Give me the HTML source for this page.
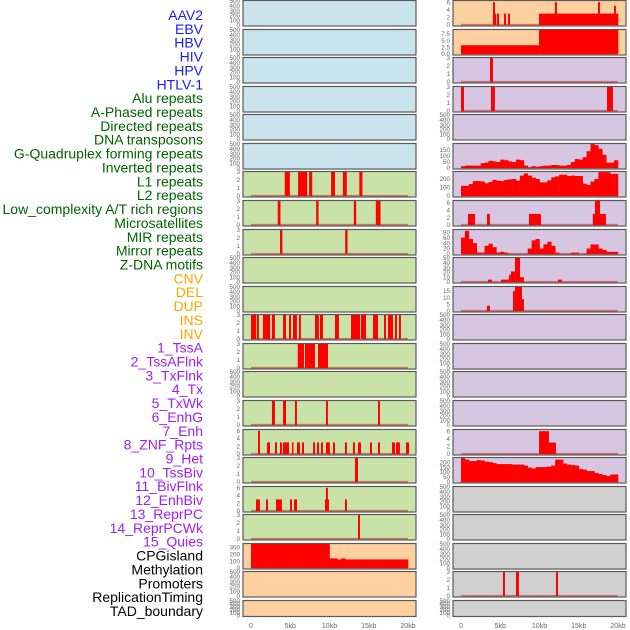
<!DOCTYPE html>
<html><head><meta charset="utf-8">
<style>
html,body{margin:0;padding:0;background:#fff;}
svg{display:block;font-family:"Liberation Sans",sans-serif;}
</style></head>
<body>
<svg id="chart" width="630" height="630" viewBox="0 0 630 630" xmlns="http://www.w3.org/2000/svg"></svg>
<script>
// ---- data ----
const trackLabels = ["AAV2","EBV","HBV","HIV","HPV","HTLV-1","Alu repeats","A-Phased repeats","Directed repeats","DNA transposons","G-Quadruplex forming repeats","Inverted repeats","L1 repeats","L2 repeats","Low_complexity A/T rich regions","Microsatellites","MIR repeats","Mirror repeats","Z-DNA motifs","CNV","DEL","DUP","INS","INV","1_TssA","2_TssAFlnk","3_TxFlnk","4_Tx","5_TxWk","6_EnhG","7_Enh","8_ZNF_Rpts","9_Het","10_TssBiv","11_BivFlnk","12_EnhBiv","13_ReprPC","14_ReprPCWk","15_Quies","CPGisland","Methylation","Promoters","ReplicationTiming","TAD_boundary"];
const labelGroups = [6,13,5,15,5];
const xTickValues = [0,5,10,15,20];
const xTickLabels = ["0","5kb","10kb","15kb","20kb"];
// spikes: [start kb, width kb, height]
const spikesL6 = [[4.3,0.65,3],[6.0,1.15,3],[7.4,0.4,3],[10.2,0.5,3],[11.7,0.5,3],[13.8,0.4,3]];
const spikesL7 = [[3.4,0.35,3],[8.3,0.3,3],[13.1,0.3,3],[15.9,0.6,3]];
const spikesL8 = [[3.7,0.3,3],[12.0,0.3,3]];
const spikesL11 = [[0.0,0.65,3],[0.76,0.25,3],[1.53,0.9,3],[2.67,0.38,3],[4.08,0.38,3],[4.84,0.25,3],[5.35,0.5,3],[6.11,0.25,3],[8.15,0.5,3],[8.79,0.38,3],[10.7,0.5,3],[12.74,1.15,3],[14.01,0.64,3],[15.54,0.64,3],[16.94,0.25,3],[17.45,0.64,3],[18.34,0.25,3],[18.85,0.25,3]];
const spikesL12 = [[5.95,0.8,3],[6.88,1.27,3],[8.54,1.27,3]];
const spikesL14 = [[2.67,0.38,3],[4.08,0.38,3],[5.6,0.25,3],[9.55,0.25,3],[16.18,0.25,3]];
const spikesL15 = [[0.89,0.25,6],[2.04,0.38,3],[3.06,0.25,3],[3.69,0.25,3],[4.08,0.76,3],[5.22,0.13,3],[5.86,0.38,3],[6.5,0.25,3],[7.9,0.25,3],[8.41,0.25,3],[8.92,0.25,3],[9.55,0.5,3],[10.45,0.25,3],[11.97,0.25,3],[12.99,0.25,3],[13.63,0.38,3],[15.16,0.25,3],[16.18,0.25,3],[17.96,0.38,3],[18.47,0.5,3],[19.75,0.38,3]];
const spikesL16 = [[13.25,0.38,3]];
const spikesL17 = [[0.64,0.5,3],[1.91,0.25,3],[3.18,0.76,3],[4.97,0.25,3],[5.48,0.38,3],[9.43,0.5,3],[9.55,0.25,6],[11.97,0.25,3]];
const spikesL18 = [[13.63,0.25,3]];
const profileL19 = [350,350,350,350,350,350,350,350,350,350,350,350,350,350,350,350,350,350,350,350,140,140,125,140,125,125,125,125,125,125,125,125,125,125,125,125,125,125,125,125];
const spikesR0 = [[4.08,0.25,6],[4.08,0.4,3],[4.59,0.25,3],[5.48,0.25,3],[5.99,0.25,3],[9.94,10.1,3],[11.97,0.25,6],[17.45,0.25,6],[19.49,0.25,5]];
const spikesR1 = [[0,9.94,3.3],[9.94,10.1,9]];
const spikesR2 = [[3.69,0.38,3]];
const spikesR3 = [[0,0.38,3],[3.82,0.5,3],[18.6,0.76,3]];
const profileR5 = [15,20,20,20,20,40,45,60,55,50,70,65,55,50,70,65,20,5,15,10,15,20,20,25,25,20,20,25,50,75,70,90,140,200,190,160,110,45,45,65];
const profileR6 = [120,120,140,175,175,170,150,165,190,180,175,190,195,200,180,240,265,240,215,200,160,160,185,220,230,250,250,235,240,235,235,145,130,170,200,280,280,280,260,260];
const spikesR7 = [[0.89,0.89,3],[3.31,0.38,3],[8.66,1.53,3],[16.8,1.66,3],[17.07,0.64,6.5]];
const profileR8 = [60,85,55,40,5,5,30,38,25,5,8,5,0,0,0,0,0,20,50,55,20,35,45,30,5,0,0,0,5,5,0,0,20,35,35,20,15,8,8,8];
const spikesR9 = [[3.44,0.5,5],[5.1,1.0,5],[6.11,0.25,15],[6.37,0.5,22],[6.88,0.64,50],[7.52,0.5,10],[12.36,0.5,5]];
const spikesR10 = [[3.31,0.38,4],[6.62,0.25,15],[6.88,0.89,18],[7.77,0.25,9]];
const spikesR15 = [[9.94,1.27,6],[11.21,0.89,3]];
const profileR16 = [240,225,210,210,220,215,205,200,190,180,180,180,180,175,175,175,165,145,135,150,150,150,155,165,225,225,185,175,170,165,130,125,110,110,90,80,70,60,75,75];
const spikesR20 = [[5.35,0.25,3],[7.0,0.38,3],[12.1,0.25,3]];
// panel specs: [spikes|profile, ymax, ticks]
const ticks500 = [0,100,200,300,400,500];
const ticks3 = [0,1,2,3];
const ticks6 = [0,2,4,6];
const leftPanels = [
 [null,500,ticks500],[null,500,ticks500],[null,500,ticks500],[null,500,ticks500],[null,500,ticks500],[null,500,ticks500],
 [spikesL6,3,ticks3],[spikesL7,3,ticks3],[spikesL8,3,ticks3],[null,500,ticks500],[null,500,ticks500],
 [spikesL11,3,ticks3],[spikesL12,3,ticks3],[null,500,ticks500],[spikesL14,3,ticks3],[spikesL15,6.2,ticks6],
 [spikesL16,3,ticks3],[spikesL17,6.2,ticks6],[spikesL18,3,ticks3],[profileL19,350,[0,100,200,300]],
 [null,500,ticks500],[null,500,ticks500]];
const rightPanels = [
 [spikesR0,6.3,ticks6],[spikesR1,9,[0,2.5,5,7.5]],[spikesR2,3,ticks3],[spikesR3,3,ticks3],[null,500,ticks500],
 [profileR5,200,[0,50,100,150]],[profileR6,282,[0,100,200]],[spikesR7,6.5,ticks6],[profileR8,88,[0,20,40,60,80]],
 [spikesR9,50,[0,10,20,30,40,50]],[spikesR10,18,[0,5,10,15]],[null,500,ticks500],[null,500,ticks500],
 [null,500,ticks500],[null,500,ticks500],[spikesR15,6.3,ticks6],[profileR16,241,[0,50,100,150,200]],
 [null,500,ticks500],[null,500,ticks500],[null,500,ticks500],[spikesR20,3,ticks3],[null,500,ticks500]];
const leftBg = ["b","b","b","b","b","b","g","g","g","g","g","g","g","g","g","g","g","g","g","o","o","o"];
const rightBg = ["o","o","p","p","p","p","p","p","p","p","p","p","p","p","p","p","p","g2","g2","g2","g2","g2"];
</script>
<script>
const NS="http://www.w3.org/2000/svg";
const svg=document.getElementById('chart');
function mk(tag,attrs,parent){const e=document.createElementNS(NS,tag);for(const k in attrs)e.setAttribute(k,attrs[k]);(parent||svg).appendChild(e);return e;}
const bgColors={b:"#c9e4ec",g:"#c9e2a7",o:"#fecf9f",p:"#d6c6e2",g2:"#d0d0d0"};
const groupColors=["#1a1aff","#006400","#ffa500","#a020f0","#000000"];
// labels
let gi=0,cnt=0;
trackLabels.forEach((t,i)=>{
  while(cnt>=labelGroups[gi]){cnt-=labelGroups[gi];gi++;}
  cnt++;
  const tx=mk('text',{x:203,y:15+i*13.86+5,'text-anchor':'end','font-size':'14',fill:groupColors[gi]});
  tx.textContent=t;
  
  
});
function drawColumn(panels,bgs,px,side){
  const pw=173, x0=px+8, kbPx=7.85;
  const xs=kb=>x0+kb*kbPx;
  panels.forEach((p,i)=>{
    const top=Math.round(i*28.57)+0.5;
    const h=(i===21)?16:25.5;
    const bottom=top+h-1;
    const g=mk('g',{});
    
    
    mk('rect',{x:px,y:top,width:pw,height:h,fill:bgColors[bgs[i]],stroke:"#5a5a5a",'stroke-width':1.2},g);
    const ymax=p[1];
    const ys=v=>bottom-(v/ymax)*(h-1.5);
    // ticks
    p[2].forEach(tv=>{
      const t=mk('text',{x:px-3,y:ys(tv)+2.2,'text-anchor':'end','font-size':'6.3',fill:"#666"},g);
      t.textContent=String(tv%1===0?tv:tv.toFixed(1)).replace(/^(\d)$/, '$1');
      if(ymax===9) t.textContent=tv.toFixed(1);
      
      
    });
    const d=p[0];
    if(!d) return;
    mk('line',{x1:xs(0),x2:xs(20),y1:bottom-0.3,y2:bottom-0.3,stroke:"rgba(190,0,0,0.45)",'stroke-width':1.6},g);
    if(typeof d[0]==='number'){
      const bw=20/d.length;
      d.forEach((v,j)=>{
        if(v<=0)return;
        const r=mk('rect',{x:xs(j*bw),y:ys(Math.min(v,ymax)),width:bw*kbPx+0.3,height:bottom-ys(Math.min(v,ymax)),fill:"#ff0000"},g);
        
        
      });
    } else {
      d.forEach(s=>{
        const v=Math.min(s[2],ymax);
        const r=mk('rect',{x:xs(s[0]),y:ys(v),width:Math.max(s[1]*kbPx,1.5),height:bottom-ys(v),fill:"#ff0000"},g);
        
        
      });
    }
  });
  xTickValues.forEach((v,k)=>{
    const t=mk('text',{x:xs(v),y:628,'text-anchor':'middle','font-size':'7',fill:"#666"});
    t.textContent=xTickLabels[k];
    
    
  });
}
drawColumn(leftPanels,leftBg,243,'left');
drawColumn(rightPanels,rightBg,453,'right');
</script>
</body></html>
